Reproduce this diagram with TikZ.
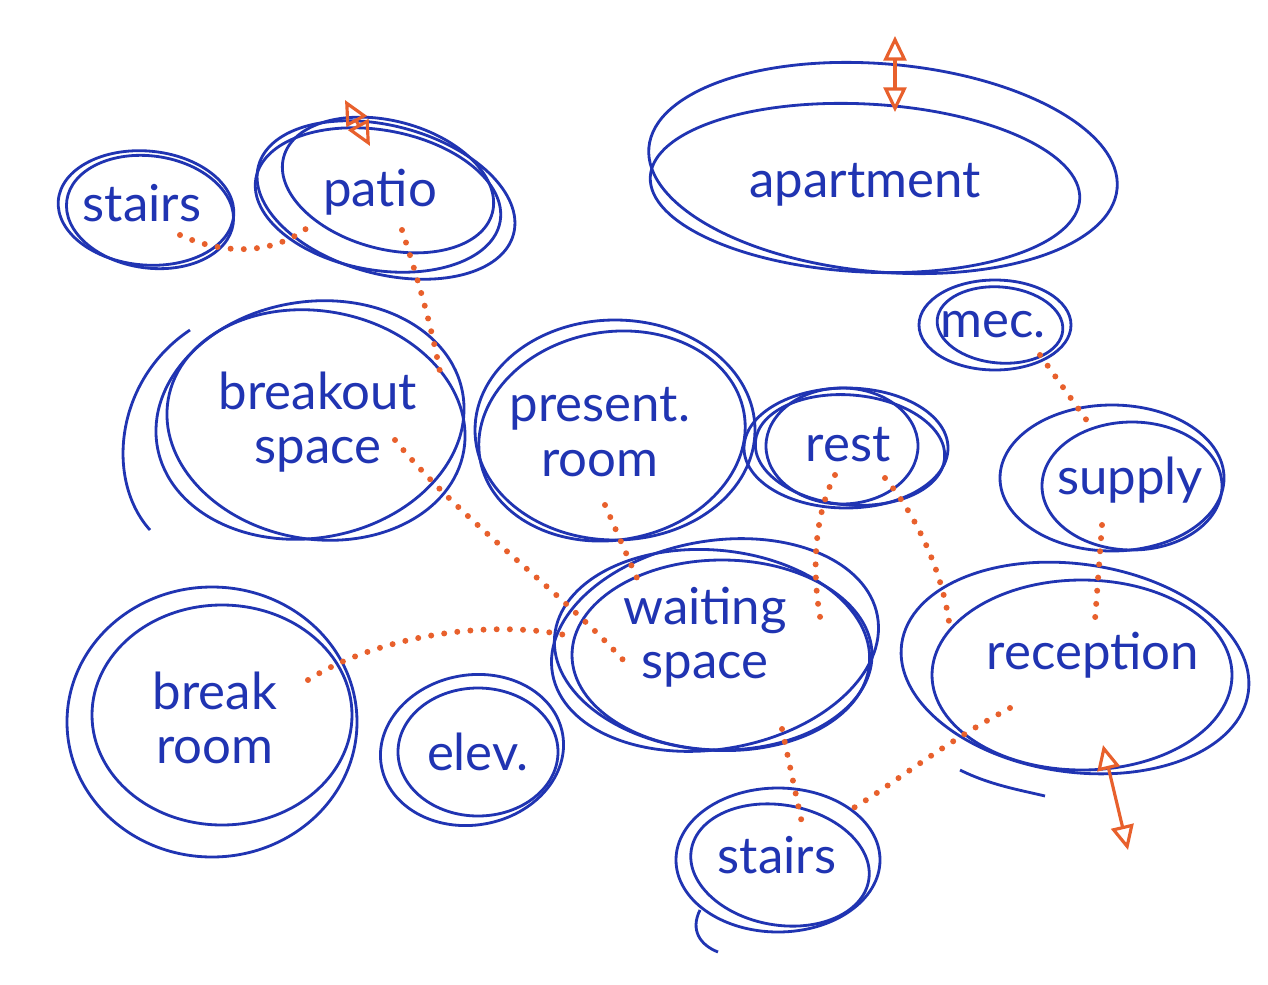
\documentclass[tikz,border=0pt]{standalone}
\usepackage{fontspec}
\setmainfont{Lato}
\usetikzlibrary{arrows.meta,calc}
\definecolor{ink}{RGB}{32,52,178}
\definecolor{pen}{RGB}{232,96,44}
\begin{document}
\begin{tikzpicture}[x=0.02cm,y=-0.02cm,
  bub/.style={draw=ink,line width=1.6pt},
  lbl/.style={text=ink,font=\fontsize{29}{31}\selectfont,align=center,inner sep=0pt},
  link/.style={draw=pen,line width=3.4pt,line cap=round,dash pattern=on 0pt off 7.5pt},
  dbl/.style={draw=pen,line width=1.8pt,{Triangle[open,length=14pt,width=13pt]}-{Triangle[open,length=14pt,width=13pt]}}]
\useasboundingbox (0,0) rectangle (1268,984);
\fill[white] (0,0) rectangle (1268,984);

% labels
\node[lbl] (stairsT) at (142,203) {stairs};
\node[lbl] (patio) at (380,192) {patio};
\node[lbl] (apt) at (865,185) {apartment};
\node[lbl] (mec) at (993,325) {mec.};
\node[lbl] (breakout) at (318,422) {breakout\\space};
\node[lbl] (present) at (600,432) {present.\\room};
\node[lbl] (rest) at (848,445) {rest};
\node[lbl] (supply) at (1130,480) {supply};
\node[lbl] (waiting) at (705,637) {waiting\\space};
\node[lbl] (reception) at (1093,655) {reception};
\node[lbl] (breakroom) at (215,718) {break\\room};
\node[lbl] (elev) at (478,752) {elev.};
\node[lbl] (stairsB) at (777,855) {stairs};

% bubbles
\draw[bub,rotate around={-5:(146,208)}] (146,208) ellipse (88 and 57);
\draw[bub,rotate around={-8:(150,212)}] (150,212) ellipse (84 and 56);

\draw[bub,rotate around={-15:(388,185)}] (388,185) ellipse (108 and 64);
\draw[bub,rotate around={-15:(386,200)}] (386,200) ellipse (132 and 74);
\draw[bub,rotate around={-10:(378,200)}] (378,200) ellipse (124 and 70);

\draw[bub,rotate around={-5:(883,168)}] (883,168) ellipse (235 and 104);
\draw[bub,rotate around={-3:(865,188)}] (865,188) ellipse (215 and 84);

\draw[bub] (995,325) ellipse (76 and 45);
\draw[bub,rotate around={-5:(1000,325)}] (1000,325) ellipse (63 and 38);

\draw[bub,rotate around={10:(310,420)}] (310,420) ellipse (155 and 118);
\draw[bub,rotate around={-10:(316,425)}] (316,425) ellipse (150 and 114);
\draw[bub] (150,530) .. controls (105,480) and (115,380) .. (190,330);

\draw[bub] (615,430) ellipse (140 and 110);
\draw[bub,rotate around={10:(612,436)}] (612,436) ellipse (134 and 104);

\draw[bub] (846,448) ellipse (102 and 60);
\draw[bub,rotate around={-5:(850,450)}] (850,450) ellipse (95 and 55);
\draw[bub] (842,446) ellipse (76 and 58);

\draw[bub] (1112,478) ellipse (112 and 73);
\draw[bub] (1132,486) ellipse (90 and 64);

\draw[bub,rotate around={10:(715,645)}] (715,645) ellipse (165 and 104);
\draw[bub,rotate around={-5:(712,650)}] (712,650) ellipse (158 and 100);
\draw[bub] (722,655) ellipse (150 and 95);

\draw[bub,rotate around={-8:(1075,668)}] (1075,668) ellipse (175 and 104);
\draw[bub] (1082,675) ellipse (150 and 95);
\draw[bub] (960,770) .. controls (990,785) and (1020,790) .. (1045,796);

\draw[bub] (212,722) ellipse (145 and 135);
\draw[bub] (222,715) ellipse (130 and 110);

\draw[bub,rotate around={10:(472,750)}] (472,750) ellipse (92 and 75);
\draw[bub] (478,752) ellipse (80 and 64);

\draw[bub] (778,860) ellipse (102 and 72);
\draw[bub,rotate around={-10:(780,865)}] (780,865) ellipse (90 and 60);
\draw[bub] (700,910) .. controls (690,930) and (700,945) .. (718,952);

% connectors
\draw[link] ($(stairsT)+(38,32)$) .. controls (230,258) and (280,252) .. ($(patio)+(-68,32)$);
\draw[link] ($(patio)+(22,38)$) .. controls (418,280) and (430,320) .. ($(breakout)+(122,-50)$);
\draw[link] ($(mec)+(47,30)$) -- ($(supply)+(-40,-55)$);
\draw[link] ($(breakout)+(77,18)$) .. controls (460,520) and (560,590) .. ($(waiting)+(-80,25)$);
\draw[link] ($(present)+(5,73)$) -- ($(waiting)+(-65,-52)$);
\draw[link] ($(rest)+(-13,30)$) .. controls (812,520) and (812,580) .. ($(waiting)+(117,-10)$);
\draw[link] ($(rest)+(37,33)$) .. controls (920,520) and (945,580) .. ($(reception)+(-143,-25)$);
\draw[link] ($(supply)+(-28,45)$) -- ($(reception)+(2,-35)$);
\draw[link] ($(breakroom)+(93,-38)$) .. controls (370,640) and (480,618) .. ($(waiting)+(-140,-2)$);
\draw[link] ($(waiting)+(77,92)$) -- ($(stairsB)+(26,-27)$);
\draw[link] ($(reception)+(-83,53)$) .. controls (940,745) and (885,790) .. ($(stairsB)+(73,-45)$);

% up/down arrows
\coordinate (pa1) at (345,100); \coordinate (pa2) at (370,146);
\draw[dbl] (pa1) -- (pa2);
\coordinate (ap1) at (895,36); \coordinate (ap2) at (895,112);
\draw[dbl] (ap1) -- (ap2);
\coordinate (re1) at (1103,745); \coordinate (re2) at (1128,850);
\draw[dbl] (re1) -- (re2);
\end{tikzpicture}
\end{document}
